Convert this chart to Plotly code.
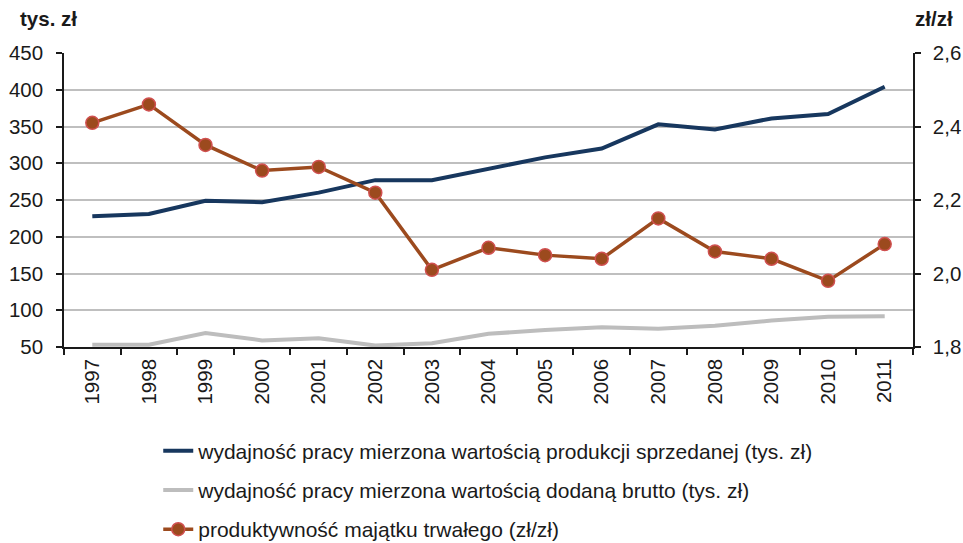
import plotly.graph_objects as go

years = ["1997", "1998", "1999", "2000", "2001", "2002", "2003", "2004",
         "2005", "2006", "2007", "2008", "2009", "2010", "2011"]
sprzedana = [228, 231, 249, 247, 260, 277, 277, 293, 308, 320, 353, 346, 361, 367, 404]
dodana = [53, 53, 69, 59, 62, 52, 55, 68, 73, 77, 75, 79, 86, 91, 92]
produktywnosc = [2.41, 2.46, 2.35, 2.28, 2.29, 2.22, 2.01, 2.07, 2.05, 2.04,
                 2.15, 2.06, 2.04, 1.98, 2.08]

names = [
    "wydajność pracy mierzona wartością produkcji sprzedanej (tys. zł)",
    "wydajność pracy mierzona wartością dodaną brutto (tys. zł)",
    "produktywność majątku trwałego (zł/zł)",
]

FONT = "Liberation Sans, Arial, sans-serif"
TXT = "#1a1a1a"
TICK = 20.5

fig = go.Figure()
fig.add_trace(go.Scatter(x=years, y=sprzedana, name=names[0], mode="lines",
                         legendgroup="a",
                         line=dict(color="#17375E", width=4)))
fig.add_trace(go.Scatter(x=years, y=dodana, name=names[1], mode="lines",
                         legendgroup="b",
                         line=dict(color="#BDBDBD", width=4)))
fig.add_trace(go.Scatter(x=years, y=produktywnosc, name=names[2], mode="lines+markers",
                         yaxis="y2", legendgroup="c",
                         line=dict(color="#9C4A1E", width=3.5),
                         marker=dict(size=13, color="#9C4A1E",
                                     line=dict(color="#D05050", width=1.5))))

fig.update_layout(
    width=963, height=543,
    margin=dict(l=64, r=50, t=53, b=196, autoexpand=False),
    paper_bgcolor="white", plot_bgcolor="white",
    separators=", ",
    font=dict(family=FONT, size=TICK, color=TXT),
    showlegend=True,
    legend=dict(orientation="v", x=0.111, xanchor="left", y=-0.284, yanchor="top",
                font=dict(family=FONT, size=21, color=TXT),
                tracegroupgap=9, itemsizing="trace", bgcolor="rgba(0,0,0,0)"),
    xaxis=dict(type="category", range=[-0.5, len(years) - 0.5],
               tickangle=-90, tickson="boundaries",
               ticks="outside", ticklen=6, tickcolor=TXT, tickwidth=1.5,
               showline=True, linecolor=TXT, linewidth=1.5,
               showgrid=False, tickfont=dict(size=TICK), ticklabelstandoff=2),
    yaxis=dict(range=[50, 450], dtick=50, ticks="outside", ticklen=6,
               tickcolor=TXT, tickwidth=1.5,
               showline=True, linecolor=TXT, linewidth=1.5,
               showgrid=True, gridcolor="#BFBFBF", gridwidth=1.5,
               zeroline=False, tickfont=dict(size=TICK), ticklabelstandoff=9),
    yaxis2=dict(range=[1.8, 2.6], dtick=0.2, tickformat=".1f", overlaying="y",
                side="right", ticks="outside", ticklen=6,
                tickcolor=TXT, tickwidth=1.5,
                showline=True, linecolor=TXT, linewidth=1.5,
                showgrid=False, zeroline=False, tickfont=dict(size=TICK),
                ticklabelstandoff=8),
    annotations=[
        dict(text="<b>tys. zł</b>", xref="paper", yref="paper", x=-0.054, y=1.119,
             xanchor="left", yanchor="middle", showarrow=False,
             font=dict(family=FONT, size=TICK, color=TXT)),
        dict(text="<b>zł/zł</b>", xref="paper", yref="paper", x=1.049, y=1.119,
             xanchor="right", yanchor="middle", showarrow=False,
             font=dict(family=FONT, size=TICK, color=TXT)),
    ],
)

fig.write_html(
    "out.html",
    config={"displayModeBar": False},
    post_script="document.body.style.margin='0';document.body.style.overflow='hidden';",
)
